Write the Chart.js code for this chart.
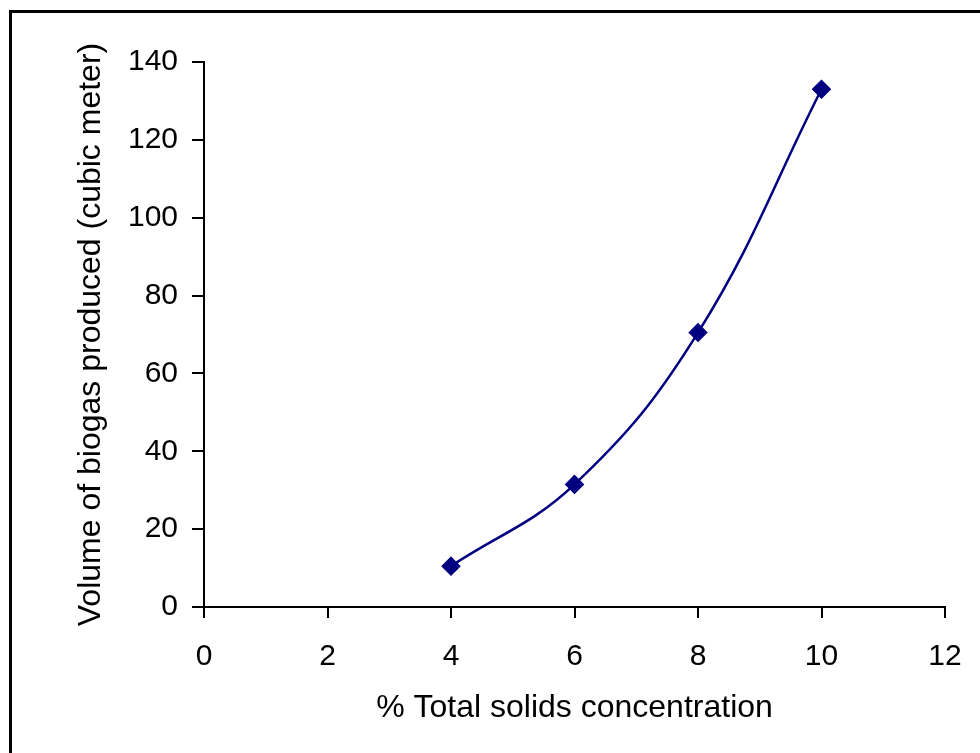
<!DOCTYPE html>
<html>
<head>
<meta charset="utf-8">
<script src="https://cdn.jsdelivr.net/npm/chart.js@4.4.1/dist/chart.umd.min.js"></script>
<style>
  html, body { margin: 0; padding: 0; background: #fff; overflow: hidden; }
  #wrap { position: relative; width: 980px; height: 753px; }
  #frame { position: absolute; left: 9px; top: 10px; width: 1100px; height: 1000px; border: 3px solid #000; box-sizing: border-box; }
  #chart { position: absolute; left: 0; top: 0; }
</style>
</head>
<body>
<div id="wrap">
  <div id="frame"></div>
  <canvas id="chart" width="980" height="753"></canvas>
</div>
<script>
// % total solids concentration vs biogas volume
const solids = [4, 6, 8, 10];
const biogas = [10.5, 31.5, 70.5, 133];
const xTicks = [0, 2, 4, 6, 8, 10, 12];
const yTicks = [0, 20, 40, 60, 80, 100, 120, 140];

const xTitle = '% Total solids concentration';
const yTitle = 'Volume of biogas produced (cubic meter)';

const points = solids.map((x, i) => ({ x, y: biogas[i] }));
const font = { family: '"Liberation Sans", Arial, sans-serif', size: 30 };
const titleFont = { ...font, size: 32 };
const axisGrid = { drawOnChartArea: false, drawTicks: true, color: '#000', lineWidth: 2 };

new Chart(document.getElementById('chart'), {
  type: 'scatter',
  data: {
    datasets: [{
      data: points,
      showLine: true,
      tension: 0.4,
      borderColor: '#000080',
      borderWidth: 2.5,
      backgroundColor: '#000080',
      pointStyle: 'rectRot',
      pointRadius: 8,
      pointHoverRadius: 8
    }]
  },
  options: {
    responsive: false,
    animation: false,
    layout: { padding: { top: 62, right: 35, left: 0, bottom: 0 } },
    plugins: { legend: { display: false }, tooltip: { enabled: false } },
    scales: {
      x: {
        type: 'linear',
        min: xTicks[0],
        max: xTicks[xTicks.length - 1],
        afterBuildTicks: s => { s.ticks = xTicks.map(v => ({ value: v })); },
        afterFit: s => { s.height = 146; s.paddingRight = 0; s.paddingLeft = 0; },
        border: { color: '#000', width: 2 },
        grid: { ...axisGrid, tickLength: 11 },
        ticks: { color: '#000', font, padding: 21, maxRotation: 0 },
        title: { display: true, text: xTitle, color: '#000', font: titleFont, padding: { top: 0, bottom: 26 } }
      },
      y: {
        min: yTicks[0],
        max: yTicks[yTicks.length - 1],
        afterBuildTicks: s => { s.ticks = yTicks.map(v => ({ value: v })); },
        afterFit: s => { s.width = 204; },
        border: { color: '#000', width: 2 },
        grid: { ...axisGrid, tickLength: 12 },
        ticks: { color: '#000', font, padding: 14 },
        title: { display: true, text: yTitle, color: '#000', font: titleFont, padding: { top: 72, bottom: 0 } }
      }
    }
  }
});
</script>
</body>
</html>
